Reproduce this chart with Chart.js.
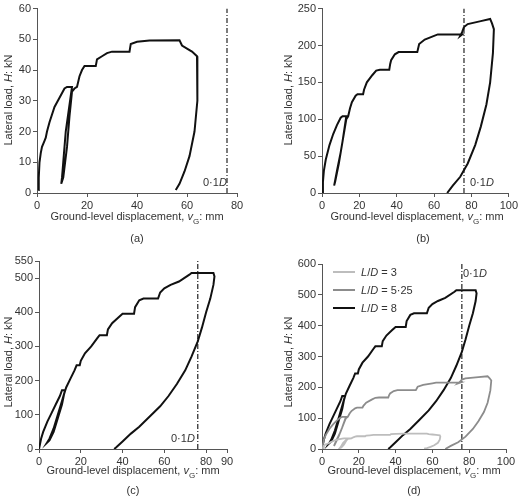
<!DOCTYPE html>
<html><head><meta charset="utf-8">
<script src="https://cdn.jsdelivr.net/npm/chart.js@4/dist/chart.umd.min.js"></script>
<style>
body{margin:0;background:#fff;font-family:"Liberation Sans",Arial,sans-serif;color:#333}
#wrap{position:relative;width:520px;height:496px}
canvas{position:absolute}
.t{position:absolute;font-size:11px;white-space:nowrap;color:#333}
.yt{transform:translate(-50%,-50%) rotate(-90deg)}
.xt{transform:translate(-50%,-50%)}
.leg{position:absolute;font-size:11px;display:flex;align-items:center;gap:6px}
.leg i{display:inline-block;width:22px}
</style></head><body>
<div id="wrap">
<canvas id="ca" width="260" height="248" style="left:0;top:0"></canvas>
<canvas id="cb" width="260" height="248" style="left:260px;top:0"></canvas>
<canvas id="cc" width="260" height="248" style="left:0;top:248px"></canvas>
<canvas id="cd" width="260" height="248" style="left:260px;top:248px"></canvas>

<div class="t yt" style="left:8px;top:100px">Lateral load, <i>H</i>: kN</div>
<div class="t xt" style="left:137px;top:218px">Ground-level displacement, <i>v</i><sub style="font-size:8px">G</sub>: mm</div>
<div class="t xt" style="left:137px;top:238px">(a)</div>
<div class="t" style="left:203px;top:176px">0·1<i>D</i></div>

<div class="t yt" style="left:288px;top:100px">Lateral load, <i>H</i>: kN</div>
<div class="t xt" style="left:417px;top:218px">Ground-level displacement, <i>v</i><sub style="font-size:8px">G</sub>: mm</div>
<div class="t xt" style="left:423px;top:238px">(b)</div>
<div class="t" style="left:470px;top:176px">0·1<i>D</i></div>

<div class="t yt" style="left:8px;top:362px">Lateral load, <i>H</i>: kN</div>
<div class="t xt" style="left:133px;top:472px">Ground-level displacement, <i>v</i><sub style="font-size:8px">G</sub>: mm</div>
<div class="t xt" style="left:133px;top:490px">(c)</div>
<div class="t" style="left:171px;top:432px">0·1<i>D</i></div>

<div class="t yt" style="left:288px;top:362px">Lateral load, <i>H</i>: kN</div>
<div class="t xt" style="left:414px;top:472px">Ground-level displacement, <i>v</i><sub style="font-size:8px">G</sub>: mm</div>
<div class="t xt" style="left:414px;top:490px">(d)</div>
<div class="t" style="left:463px;top:267px">0·1<i>D</i></div>
<div class="leg" style="left:333px;top:266px"><i style="border-top:2px solid #bdbdbd"></i><span><i style="width:auto;border:0">L</i>/<i style="width:auto;border:0">D</i> = 3</span></div>
<div class="leg" style="left:333px;top:284px"><i style="border-top:2px solid #8c8c8c"></i><span><i style="width:auto;border:0">L</i>/<i style="width:auto;border:0">D</i> = 5·25</span></div>
<div class="leg" style="left:333px;top:302px"><i style="border-top:2.5px solid #111"></i><span><i style="width:auto;border:0">L</i>/<i style="width:auto;border:0">D</i> = 8</span></div>
</div>
<script>
// L/D = 3
const ld3X = [0.5,0.7,1,1.5,2,2.5,3,3.5,4,5,7,9,11,12,14,11.5,10.5,10,9.7,10.5,12,13,14,15,16,17,18,19,23.5,24,26,28,30,37,37.5,40,45,57,58,60,62,64,64.3,64,63,61,59,57,55.5];
const ld3Y = [1,5,10,13,15,16,17,18,20,23,28,31,34,34.5,34.5,20,10,5,3,5,15,25,33,34,34.5,38,40,41.3,41.3,43.5,44.5,45.5,46,46,48.5,49.2,49.6,49.7,48,47,46,44.5,40,30,20,12,7,3,1];
// L/D = 5.25
const ld5X = [0,0.5,1,2,4,6,8,10,11,13,11,9,7,6.5,8,10,12,13,14,15,16,18,19,22,22.5,24,27,29,31,36,36.5,37,39,41,51,52,55,60,62,75,74,75,76,78,85,90,91,92,91.5,90,88,85,82,78,74,70,67];
const ld5Y = [0,15,30,45,65,80,92,102,104,104,70,40,15,10,30,55,85,100,104,115,123,132,134,134,140,150,160,166,167,167,175,180,188,191,191,202,208,213,215,215,213,218,225,229,233,236,230,222,190,150,120,90,65,40,22,10,0];
// L/D = 8
const ld8X = [0,1,2,4,6,8,10,11,12.5,11,9,7,5,3.8,5,7,9,11,12,13,15,17,18,19.5,20,22,25,28,29,32.5,33,35,38,40,45.5,46,48,50,57,58,60,63,67,72,73,83.5,84,83.5,82,80,78,76,73,70,66,62,58,53,48,44,40,37,36];
const ld8Y = [0,30,50,80,105,130,155,172,172,140,100,60,30,18,25,50,90,130,160,180,205,230,245,245,258,280,300,325,333,333,350,368,385,396,396,415,435,440,440,458,470,480,490,510,515,515,505,480,440,400,355,315,270,230,190,155,125,95,65,45,22,5,0];
const refX = 76; // 0.1D

const pts = (xs, ys) => xs.map((x, i) => ({ x, y: ys[i] }));
const font = { family: '"Liberation Sans", Arial, sans-serif', size: 11 };

function series(xs, ys, color, w) {
  return { data: pts(xs, ys), showLine: true, borderColor: color, borderWidth: w, pointRadius: 0, tension: 0, fill: false };
}
function refLine(ymax) {
  return { data: [{ x: refX, y: 0 }, { x: refX, y: ymax }], showLine: true, borderColor: '#333', borderWidth: 1.3, borderDash: [5, 2, 1, 2], pointRadius: 0 };
}

function makeChart(id, datasets, xmax, xstep, ymax, ystep, pad) {
  const axis = (min, max, step) => ({
    type: 'linear', min, max,
    ticks: { stepSize: step, color: '#333', font, padding: 2 },
    grid: { drawOnChartArea: false, drawTicks: true, tickLength: 4, color: '#555' },
    border: { color: '#555', width: 1 }
  });
  const x = axis(0, xmax, xstep);
  x.afterFit = s => { s.height = pad.xh; };
  const y = axis(0, ymax, ystep);
  y.afterFit = s => { s.width = pad.yw; };
  return new Chart(document.getElementById(id), {
    type: 'scatter',
    data: { datasets },
    options: {
      responsive: false, animation: false,
      layout: { padding: { left: 0, right: pad.r, top: pad.t, bottom: 248 - pad.t - pad.h - pad.xh } },
      plugins: { legend: { display: false }, tooltip: { enabled: false } },
      scales: { x, y }
    }
  });
}

makeChart('ca', [series(ld3X, ld3Y, '#111', 2), refLine(60)], 80, 20, 60, 10, { yw: 37, r: 23, t: 7, h: 186, xh: 20 });
makeChart('cb', [series(ld5X, ld5Y, '#111', 2), refLine(250)], 100, 20, 250, 50, { yw: 62, r: 7, t: 5, h: 188, xh: 20 });
makeChart('cc', [series(ld8X, ld8Y, '#111', 2), refLine(550)], 90, 20, 550, 100, { yw: 39, r: 33, t: 13, h: 188, xh: 20 });
makeChart('cd', [
  series(ld3X, ld3Y, '#bdbdbd', 1.8),
  series(ld5X, ld5Y, '#8c8c8c', 1.8),
  series(ld8X, ld8Y, '#111', 2),
  refLine(600)
], 100, 20, 600, 100, { yw: 62, r: 14, t: 16, h: 185, xh: 20 });
</script>
</body></html>
